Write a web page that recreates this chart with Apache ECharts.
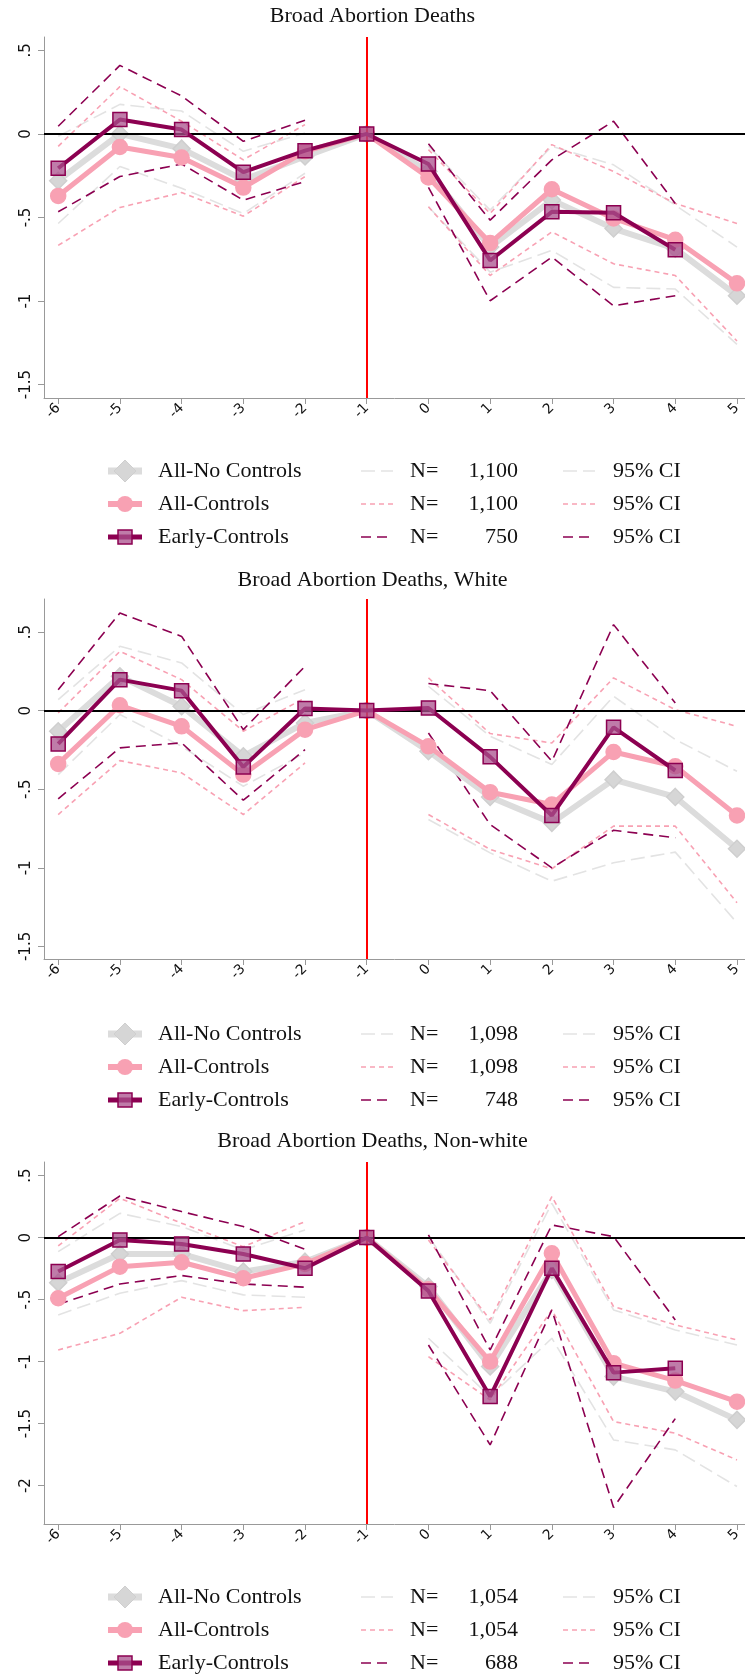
<!DOCTYPE html>
<html><head><meta charset="utf-8">
<script src="https://cdn.jsdelivr.net/npm/echarts@6/dist/echarts.min.js"></script>
<style>html,body{margin:0;padding:0;background:#fff}#c{width:745px;height:1677px}</style>
</head><body><div id="c"></div>
<script>
var xs = [-6, -5, -4, -3, -2, -1, 0, 1, 2, 3, 4, 5];
var titles = ['Broad Abortion Deaths', 'Broad Abortion Deaths, White', 'Broad Abortion Deaths, Non-white'];
var seriesNames = ['All-No Controls', 'All-Controls', 'Early-Controls'];
var nObs = [['1,100', '1,100', '750'], ['1,098', '1,098', '748'], ['1,054', '1,054', '688']];

// panel 1
var p1Gray = [-0.28, 0.0, -0.088, -0.275, -0.135, 0, -0.225, -0.677, -0.396, -0.566, -0.687, -0.968];
var p1Pink = [-0.371, -0.078, -0.141, -0.321, -0.104, 0, -0.26, -0.653, -0.331, -0.506, -0.633, -0.894];
var p1Dark = [-0.205, 0.086, 0.026, -0.229, -0.10, 0, -0.18, -0.757, -0.466, -0.472, -0.693, null];
var p1GrayHi = [-0.014, 0.177, 0.137, -0.104, 0.006, null, -0.074, -0.456, -0.074, -0.185, -0.426, -0.677];
var p1GrayLo = [-0.536, -0.195, -0.325, -0.476, -0.235, null, -0.436, -0.827, -0.697, -0.918, -0.928, -1.259];
var p1PinkHi = [-0.074, 0.283, 0.076, -0.155, 0.056, null, -0.094, -0.476, -0.064, -0.225, -0.416, -0.536];
var p1PinkLo = [-0.667, -0.44, -0.351, -0.492, -0.255, null, -0.436, -0.847, -0.586, -0.777, -0.847, -1.239];
var p1DarkHi = [0.046, 0.41, 0.227, -0.044, 0.082, null, -0.058, -0.516, -0.155, 0.076, -0.416, null];
var p1DarkLo = [-0.466, -0.255, -0.18, -0.396, -0.285, null, -0.32, -0.998, -0.737, -1.028, -0.968, null];

// panel 2
var p2Gray = [-0.131, 0.218, 0.028, -0.29, -0.078, 0, -0.258, -0.549, -0.714, -0.439, -0.549, -0.879];
var p2Pink = [-0.339, 0.034, -0.10, -0.407, -0.121, 0, -0.227, -0.519, -0.597, -0.263, -0.354, -0.667];
var p2Dark = [-0.212, 0.197, 0.127, -0.358, 0.013, 0, 0.017, -0.294, -0.667, -0.106, -0.381, null];
var p2GrayHi = [0.07, 0.409, 0.303, -0.025, 0.133, null, 0.155, -0.163, -0.343, 0.091, -0.184, -0.386];
var p2GrayLo = [-0.407, -0.025, -0.227, -0.481, -0.269, null, -0.693, -0.905, -1.085, -0.968, -0.9, -1.35];
var p2PinkHi = [-0.015, 0.377, 0.197, -0.131, 0.081, null, 0.208, -0.146, -0.206, 0.208, 0.006, -0.10];
var p2PinkLo = [-0.661, -0.318, -0.396, -0.661, -0.333, null, -0.661, -0.883, -1.006, -0.735, -0.735, -1.222];
var p2DarkHi = [0.133, 0.621, 0.472, -0.121, 0.282, null, 0.172, 0.127, -0.322, 0.547, 0.049, null];
var p2DarkLo = [-0.561, -0.237, -0.205, -0.57, -0.248, null, -0.142, -0.725, -1.0, -0.761, -0.809, null];

// panel 3
var p3Gray = [-0.363, -0.132, -0.132, -0.274, -0.194, 0, -0.395, -1.04, -0.261, -1.121, -1.242, -1.47];
var p3Pink = [-0.489, -0.234, -0.199, -0.328, -0.212, 0, -0.417, -1.0, -0.126, -1.013, -1.153, -1.323];
var p3Dark = [-0.274, -0.019, -0.051, -0.132, -0.247, 0, -0.43, -1.282, -0.247, -1.089, -1.054, null];
var p3GrayHi = [-0.113, 0.196, 0.089, -0.099, 0.062, null, 0.008, -0.691, 0.277, -0.583, -0.745, -0.866];
var p3GrayLo = [-0.624, -0.449, -0.347, -0.462, -0.481, null, -0.812, -1.282, -0.812, -1.632, -1.712, -2.008];
var p3PinkHi = [-0.067, 0.317, 0.116, -0.073, 0.129, null, -0.02, -0.664, 0.331, -0.556, -0.704, -0.825];
var p3PinkLo = [-0.906, -0.772, -0.481, -0.589, -0.562, null, -0.96, -1.309, -0.583, -1.484, -1.578, -1.793];
var p3DarkHi = [0.008, 0.336, 0.21, 0.089, -0.094, null, 0.022, -0.906, 0.102, 0.008, -0.664, null];
var p3DarkLo = [-0.538, -0.374, -0.306, -0.374, -0.40, null, -0.866, -1.672, -0.583, -2.177, -1.46, null];

var panels = [
  {main: [p1Gray, p1Pink, p1Dark], ci: [[p1GrayHi, p1GrayLo], [p1PinkHi, p1PinkLo], [p1DarkHi, p1DarkLo]]},
  {main: [p2Gray, p2Pink, p2Dark], ci: [[p2GrayHi, p2GrayLo], [p2PinkHi, p2PinkLo], [p2DarkHi, p2DarkLo]]},
  {main: [p3Gray, p3Pink, p3Dark], ci: [[p3GrayHi, p3GrayLo], [p3PinkHi, p3PinkLo], [p3DarkHi, p3DarkLo]]}
];
var yTicks = [[0.5, 0, -0.5, -1, -1.5], [0.5, 0, -0.5, -1, -1.5], [0.5, 0, -0.5, -1, -1.5, -2]];

// layout
var layout = [
  {top: 37, height: 361, min: -1.58, max: 0.58, title: 18, legend: 471},
  {top: 599, height: 360, min: -1.58, max: 0.71, title: 582, legend: 1034},
  {top: 1162, height: 362, min: -2.31, max: 0.61, title: 1143, legend: 1597}
];
var styles = [
  {color: '#dcdcdc', width: 6, symbol: 'diamond', size: 17, fill: '#d6d6d6', border: '#cfcfcf',
   ciColor: '#e3e3e3', ciDash: [14, 6]},
  {color: '#f8a1b3', width: 5, symbol: 'circle', size: 15, fill: '#f8a1b3', border: '#f8a1b3',
   ciColor: '#f8a1b3', ciDash: [5, 4]},
  {color: '#8c0051', width: 4, symbol: 'rect', size: 14, fill: 'rgba(170,80,140,0.75)', border: '#8c0051',
   ciColor: '#8c0051', ciDash: [10, 6]}
];
var serif = '"Liberation Serif", "DejaVu Serif", serif';

var grids = [], xAxes = [], yAxes = [], series = [], graphics = [];
layout.forEach(function (L, p) {
  grids.push({left: 44, width: 701, top: L.top, height: L.height});
  xAxes.push({
    type: 'value', gridIndex: p, min: -6.23, max: 5.13,
    axisLine: {onZero: false, lineStyle: {color: '#999'}},
    axisTick: {customValues: xs, length: 6, lineStyle: {color: '#999'}},
    axisLabel: {customValues: xs, rotate: 45, color: '#111', fontSize: 14, fontFamily: 'DejaVu Sans', margin: 8},
    splitLine: {show: false}
  });
  yAxes.push({
    type: 'value', gridIndex: p, min: L.min, max: L.max,
    axisLine: {show: true, onZero: false, lineStyle: {color: '#999'}},
    axisTick: {show: true, customValues: yTicks[p], length: 6, lineStyle: {color: '#999'}},
    axisLabel: {customValues: yTicks[p], rotate: 90, color: '#111', fontSize: 15, fontFamily: 'DejaVu Sans', margin: 10,
      formatter: function (v) { return v === 0 ? '0' : String(v).replace('0.', '.'); }},
    splitLine: {show: false}
  });
  graphics.push({type: 'text', left: 'center', top: L.title - 13,
    style: {text: titles[p], font: '22px ' + serif, fill: '#111'}});

  var P = panels[p];
  // CI lines
  P.ci.forEach(function (pair, k) {
    pair.forEach(function (arr) {
      series.push({
        type: 'line', xAxisIndex: p, yAxisIndex: p, silent: true, symbol: 'none', z: 2,
        data: xs.map(function (x, i) { return [x, arr[i]]; }),
        connectNulls: false,
        lineStyle: {color: styles[k].ciColor, width: 1.6, type: styles[k].ciDash}
      });
    });
  });
  // main lines
  P.main.forEach(function (arr, k) {
    var S = styles[k];
    var s = {
      type: 'line', xAxisIndex: p, yAxisIndex: p, silent: true, z: 3 + k,
      data: xs.map(function (x, i) { return [x, arr[i]]; }).filter(function (d) { return d[1] !== null; }),
      symbol: S.symbol, symbolSize: S.size,
      lineStyle: {color: S.color, width: S.width},
      itemStyle: {color: S.fill, borderColor: S.border, borderWidth: 1.5}
    };
    if (k === 0) {
      s.markLine = {silent: true, symbol: 'none', label: {show: false}, animation: false,
        data: [
          {yAxis: 0, lineStyle: {color: '#000', width: 2, type: 'solid'}},
          {xAxis: -1, lineStyle: {color: '#f00', width: 2, type: 'solid'}}
        ]};
    }
    series.push(s);
  });

  // legend
  styles.forEach(function (S, k) {
    var y = L.legend + k * 33;
    var kids = [
      {type: 'line', shape: {x1: 108, y1: y, x2: 142, y2: y}, style: {stroke: S.color, lineWidth: S.width + 1}},
      {type: 'text', x: 158, y: y, style: {text: seriesNames[k], font: '22px ' + serif, fill: '#111', textVerticalAlign: 'middle'}},
      {type: 'line', shape: {x1: 361, y1: y, x2: 393, y2: y}, style: {stroke: S.ciColor, lineWidth: 1.6, lineDash: S.ciDash}},
      {type: 'text', x: 410, y: y, style: {text: 'N=', font: '22px ' + serif, fill: '#111', textVerticalAlign: 'middle'}},
      {type: 'text', x: 518, y: y, style: {text: nObs[p][k], font: '22px ' + serif, fill: '#111', textAlign: 'right', textVerticalAlign: 'middle'}},
      {type: 'line', shape: {x1: 563, y1: y, x2: 595, y2: y}, style: {stroke: S.ciColor, lineWidth: 1.6, lineDash: S.ciDash}},
      {type: 'text', x: 613, y: y, style: {text: '95% CI', font: '22px ' + serif, fill: '#111', textVerticalAlign: 'middle'}}
    ];
    var mk;
    if (S.symbol === 'diamond') {
      mk = {type: 'polygon', shape: {points: [[125, y - 11], [136, y], [125, y + 11], [114, y]]}, style: {fill: S.fill, stroke: S.border}};
    } else if (S.symbol === 'circle') {
      mk = {type: 'circle', shape: {cx: 125, cy: y, r: 8}, style: {fill: S.fill}};
    } else {
      mk = {type: 'rect', shape: {x: 118, y: y - 7, width: 14, height: 14}, style: {fill: S.fill, stroke: S.border, lineWidth: 1.5}};
    }
    kids.push(mk);
    graphics.push({type: 'group', children: kids});
  });
});

var chart = echarts.init(document.getElementById('c'));
chart.setOption({
  animation: false,
  grid: grids, xAxis: xAxes, yAxis: yAxes, series: series, graphic: graphics
});
</script>
</body></html>
